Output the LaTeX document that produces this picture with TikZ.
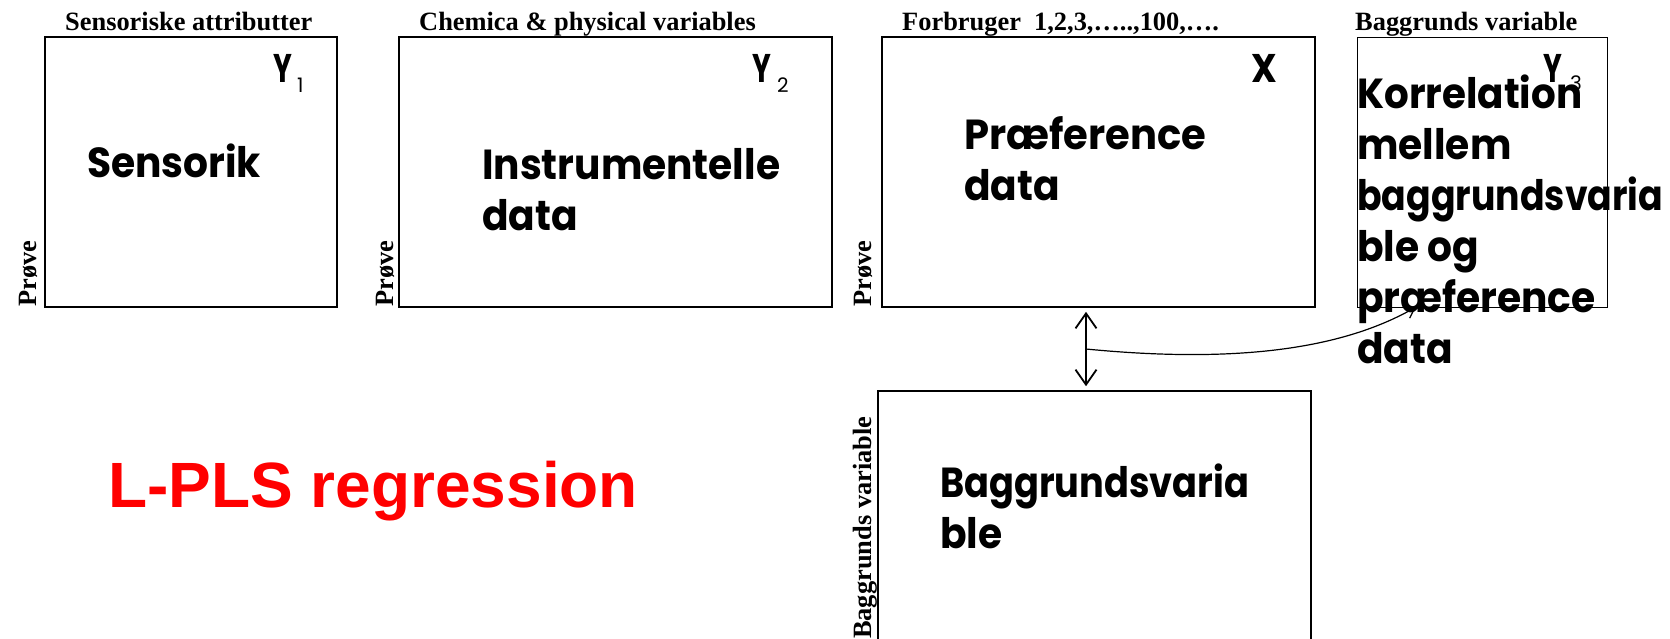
\documentclass[tikz,border=0pt]{standalone}
\usepackage{fontspec}
\usepackage{graphicx}
\setmainfont{Liberation Serif}
\newfontfamily\comicfont{Poppins}
\newfontfamily\arialfont{Liberation Sans}
\usetikzlibrary{arrows.meta,calc}
\newsavebox\fitbox
\newcommand\cl[1]{\scalebox{\comicfac}[1]{#1}}
\newcommand\fitw[2]{\sbox\fitbox{#2}\pgfmathsetmacro\fitfac{#1/\the\wd\fitbox}\scalebox{\fitfac}[1]{\usebox\fitbox}}
\begin{document}
\sbox\fitbox{\comicfont\bfseries\fontsize{42}{51}\selectfont Instrumentelle}%
\pgfmathsetmacro\comicfac{298/\the\wd\fitbox}%
\begin{tikzpicture}[x=1pt,y=-1pt,
  box/.style={draw, line width=1.6pt, inner sep=0pt, minimum height=270pt},
  lbl/.style={font=\fontsize{26.4}{30}\bfseries\selectfont, inner sep=0pt, anchor=base west},
  rlbl/.style={lbl, rotate=90},
  big/.style={font=\comicfont\bfseries\fontsize{42}{51}\selectfont, inner sep=0pt, anchor=base west, align=left},
  sym/.style={font=\comicfont\bfseries\fontsize{40}{40}\selectfont, inner sep=0pt, anchor=base west},
  subs/.style={font=\comicfont\fontsize{20}{20}\selectfont, inner sep=0pt, anchor=base west},
  dbl/.style={line width=1.8pt, {Straight Barb[length=15pt,width=21pt]}-{Straight Barb[length=15pt,width=21pt]}},
  crv/.style={line width=1.2pt, -{Straight Barb[length=10pt,width=13pt]}}
]
\useasboundingbox (0,0) rectangle (1670,638);
\clip (0,0) rectangle (1670,638);

% boxes
\node[box, minimum width=292pt] (sens) at (191,172) {};
\node[box, minimum width=433pt] (instr) at (615.5,172) {};
\node[box, minimum width=433pt] (pref) at (1098.5,172) {};
\node[box, minimum width=250pt, line width=1pt] (bvar) at (1482,172) {};
\node[box, minimum width=433pt] (bag) at (1094.5,526) {};

% top labels
\node[lbl] (t1) at (65,30) {Sensoriske attributter};
\node[lbl] (t2) at (419,30) {Chemica \& physical variables};
\node[lbl] (t3) at (902,30) {Forbruger\ \ 1,2,3,…..,100,….};
\node[lbl] (t4) at (1355,30) {Baggrunds variable};

% rotated labels
\node[rlbl] (p1) at (36,307) {Prøve};
\node[rlbl] (p2) at (393,307) {Prøve};
\node[rlbl] (p3) at (871,307) {Prøve};
\node[rlbl] (p5) at (871,639) {Baggrunds variable};

% main texts (base anchor = baseline of the last line)
\node[big] (s) at (87,177) {\fitw{174}{Sensorik}};
\node[big] (i) at (482,230) {\cl{Instrumentelle}\\\cl{data}};
\node[big] (p) at (964,200) {\fitw{242}{Præference}\\\cl{data}};
\node[big] (k) at (1357,363) {\fitw{225}{Korrelation}\\\cl{mellem}\\\fitw{306}{baggrundsvaria}\\\cl{ble og}\\\cl{præference}\\\cl{data}};
\node[big] (b) at (940,548) {\fitw{309}{Baggrundsvaria}\\\cl{ble}};

% symbols
\node[sym] (y1) at (273,82) {\scalebox{0.7}[1]{Y}};
\node[subs] (y1s) at (297,92) {1};
\node[sym] (y2) at (752,82) {\scalebox{0.7}[1]{Y}};
\node[subs] (y2s) at (777,92) {2};
\node[sym] (xx) at (1251,82) {\scalebox{0.9}[1]{X}};
\node[sym] (y3) at (1543,82) {\scalebox{0.7}[1]{Y}};
\node[subs] (y3s) at (1570,90) {3};

% title
\node[font=\arialfont\bfseries\fontsize{64}{64}\selectfont, text=red, anchor=base west, inner sep=0pt] (lpls) at (108,507) {L-PLS regression};

% connectors
\coordinate (ax) at (1086,0);
\draw[dbl, shorten <=4pt, shorten >=4pt] (pref.south -| ax) -- (bag.north -| ax);
\coordinate (cs) at (1086,349);
\coordinate (ce) at (1416,307);
\draw[crv] (cs) .. controls (1250,365) and (1350,345) .. (ce);
\end{tikzpicture}
\end{document}
